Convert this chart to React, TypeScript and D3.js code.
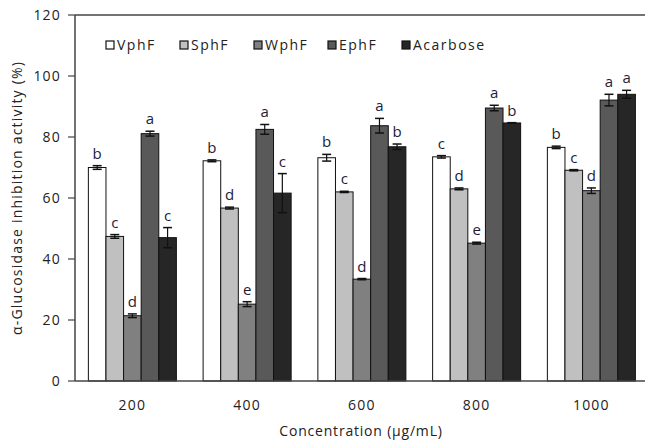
import React from "react";
import * as d3 from "d3";

const concentrations = ["200", "400", "600", "800", "1000"];
const seriesNames = ["VphF", "SphF", "WphF", "EphF", "Acarbose"];
const seriesColors = ["#ffffff", "#c0c0c0", "#808080", "#595959", "#262626"];

// values per series, one entry per concentration
const vphF = [70.0, 72.2, 73.2, 73.5, 76.6];
const sphF = [47.4, 56.7, 62.0, 63.0, 69.1];
const wphF = [21.4, 25.2, 33.4, 45.2, 62.4];
const ephF = [81.1, 82.5, 83.7, 89.5, 92.1];
const acarbose = [47.0, 61.6, 76.8, 84.6, 94.0];

const vphFErr = [0.6, 0.3, 1.1, 0.4, 0.4];
const sphFErr = [0.6, 0.3, 0.2, 0.3, 0.2];
const wphFErr = [0.6, 0.8, 0.2, 0.3, 0.9];
const ephFErr = [0.8, 1.6, 2.4, 0.9, 1.9];
const acarboseErr = [3.3, 6.4, 0.9, 0.1, 1.3];

const vphFLetters = ["b", "b", "b", "c", "b"];
const sphFLetters = ["c", "d", "c", "d", "c"];
const wphFLetters = ["d", "e", "d", "e", "d"];
const ephFLetters = ["a", "a", "a", "a", "a"];
const acarboseLetters = ["c", "c", "b", "b", "a"];

const yTicks = [0, 20, 40, 60, 80, 100, 120];

const values = [vphF, sphF, wphF, ephF, acarbose];
const errors = [vphFErr, sphFErr, wphFErr, ephFErr, acarboseErr];
const letters = [vphFLetters, sphFLetters, wphFLetters, ephFLetters, acarboseLetters];

const W = 645;
const H = 441;
const left = 75;
const top = 15;
const bottom = 381;
const step = 114.75;
const font = "'Open Sans', sans-serif";

export default function App() {
  const x0 = d3
    .scaleBand<string>()
    .domain(concentrations)
    .range([left, left + step * concentrations.length])
    .paddingInner(0.233)
    .paddingOuter(0.1165);
  const x1 = d3.scaleBand<string>().domain(seriesNames).range([0, x0.bandwidth()]);
  const y = d3.scaleLinear().domain([0, 120]).range([bottom, top]);
  const legendX = d3.scaleBand<string>().domain(seriesNames).range([106, 476]);

  const bars = [];
  seriesNames.forEach((s, si) => {
    concentrations.forEach((c, ci) => {
      const v = values[si][ci];
      const e = errors[si][ci];
      const bx = x0(c)! + x1(s)!;
      const bw = x1.bandwidth();
      const cx = bx + bw / 2;
      bars.push(
        <g key={s + c}>
          <rect x={bx} y={y(v)} width={bw} height={y(0) - y(v)} fill={seriesColors[si]} stroke="#111" strokeWidth={1} />
          <line x1={cx} x2={cx} y1={y(v + e)} y2={y(v - e)} stroke="#111" strokeWidth={1.2} />
          <line x1={cx - 4.5} x2={cx + 4.5} y1={y(v + e)} y2={y(v + e)} stroke="#111" strokeWidth={1.5} />
          <line x1={cx - 4.5} x2={cx + 4.5} y1={y(v - e)} y2={y(v - e)} stroke="#111" strokeWidth={1.5} />
          <text x={cx} y={y(v + e) - 7} textAnchor="middle" fontSize={15} fill="#1c1c3a">
            {letters[si][ci]}
          </text>
        </g>
      );
    });
  });

  return (
    <svg width={W} height={H} style={{ position: "absolute", left: 0, top: 0, background: "#fff" }} fontFamily={font}>
      <rect width={W} height={H} fill="#fff" />
      {/* plot frame top */}
      <line x1={left} x2={W} y1={top} y2={top} stroke="#444" strokeWidth={1.5} />
      {bars}
      {/* axes */}
      <line x1={left} x2={left} y1={top} y2={bottom} stroke="#444" strokeWidth={1.5} />
      <line x1={left} x2={W} y1={bottom} y2={bottom} stroke="#444" strokeWidth={1.5} />
      {yTicks.map((t) => (
        <g key={t}>
          <line x1={left - 7} x2={left} y1={y(t)} y2={y(t)} stroke="#444" strokeWidth={1.2} />
          <text x={61} y={y(t) + 5} textAnchor="end" fontSize={14} fill="#222" letterSpacing={1.2}>
            {t}
          </text>
        </g>
      ))}
      {concentrations.map((c) => (
        <text key={c} x={x0(c)! + x0.bandwidth() / 2} y={410} textAnchor="middle" fontSize={14} fill="#222" letterSpacing={1.2}>
          {c}
        </text>
      ))}
      <text x={361} y={436} textAnchor="middle" fontSize={14} fill="#222" letterSpacing={0.8}>
        Concentration (µg/mL)
      </text>
      <text transform={`translate(22,198) rotate(-90)`} textAnchor="middle" fontSize={14} fill="#222" letterSpacing={1.2}>
        α-Glucosidase inhibition activity (%)
      </text>
      {/* legend */}
      {seriesNames.map((s, i) => (
        <g key={s} transform={`translate(${legendX(s)},41)`}>
          <rect x={0} y={0} width={8} height={8} fill={seriesColors[i]} stroke="#111" strokeWidth={1.2} />
          <text x={11} y={9} fontSize={14} fill="#222" letterSpacing={1.5}>
            {s}
          </text>
        </g>
      ))}
    </svg>
  );
}
